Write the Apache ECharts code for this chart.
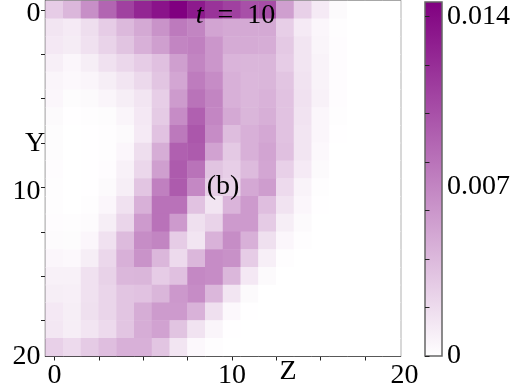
<!DOCTYPE html>
<html>
<head>
<meta charset="utf-8">
<style>
    html, body { margin: 0; padding: 0; background: #fff; }
    #chart { width: 518px; height: 384px; }
</style>
<script src="https://cdn.jsdelivr.net/npm/echarts@6/dist/echarts.min.js"></script>
</head>
<body>
<div id="chart"></div>
<script>
// cell values, in units of 1e-3, one row per Y, one column per Z
const rows = [
    [2.9, 4.1, 6.4, 8.8, 10.9, 12.4, 13.5, 14.6, 13.1, 11.7, 10.9, 10.0, 10.2, 5.5, 2.7, 1.2, 0.3, 0, 0, 0],
    [1.5, 1.2, 1.9, 2.9, 4.0, 4.9, 6.2, 7.6, 7.0, 5.2, 4.9, 4.9, 4.9, 2.8, 1.2, 0.5, 0.1, 0, 0, 0],
    [1.3, 1.1, 1.7, 2.5, 3.4, 4.5, 5.5, 7.0, 7.3, 6.0, 4.8, 4.8, 4.7, 3.1, 1.5, 0.6, 0.15, 0, 0, 0],
    [0.9, 0.5, 1.0, 1.7, 2.3, 2.9, 3.6, 5.5, 7.0, 6.0, 4.3, 4.2, 4.2, 2.9, 1.5, 0.7, 0.15, 0, 0, 0],
    [0.6, 0.4, 0.6, 1.0, 1.5, 2.2, 3.3, 5.1, 7.5, 6.6, 4.5, 4.1, 4.2, 3.3, 1.6, 0.7, 0.15, 0, 0, 0],
    [0.5, 0.2, 0.3, 0.6, 1.0, 1.5, 2.8, 5.7, 8.0, 7.0, 4.5, 4.1, 4.4, 3.5, 1.7, 0.8, 0.15, 0, 0, 0],
    [0.3, 0.05, 0.1, 0.2, 0.6, 1.3, 3.0, 6.6, 9.1, 6.9, 4.9, 4.2, 4.6, 3.5, 1.6, 0.5, 0.1, 0, 0, 0],
    [0.2, 0, 0.03, 0.1, 0.3, 1.2, 3.5, 7.7, 9.6, 6.6, 3.8, 4.5, 5.0, 3.5, 1.5, 0.5, 0.05, 0, 0, 0],
    [0.2, 0, 0.03, 0.1, 0.5, 1.9, 4.7, 9.1, 9.4, 5.3, 3.1, 4.5, 5.2, 3.6, 1.5, 0.4, 0, 0, 0, 0],
    [0.15, 0, 0.03, 0.15, 0.8, 2.3, 5.5, 9.4, 8.0, 3.4, 2.8, 3.9, 5.1, 2.7, 1.2, 0.3, 0, 0, 0, 0],
    [0.1, 0, 0.05, 0.3, 1.0, 3.3, 7.3, 9.4, 6.8, 2.8, 2.6, 5.0, 5.6, 2.1, 0.7, 0.1, 0, 0, 0, 0],
    [0.1, 0.02, 0.1, 0.5, 1.7, 4.5, 8.1, 8.1, 3.5, 1.5, 4.3, 5.8, 3.7, 1.6, 0.5, 0.05, 0, 0, 0, 0],
    [0.15, 0.1, 0.25, 1.0, 2.4, 5.8, 8.1, 5.8, 1.8, 2.5, 5.8, 5.8, 3.0, 1.0, 0.3, 0, 0, 0, 0, 0],
    [0.25, 0.2, 0.5, 1.7, 3.9, 6.5, 7.0, 2.9, 1.5, 4.4, 6.5, 4.5, 1.8, 0.5, 0.1, 0, 0, 0, 0, 0],
    [0.5, 0.4, 1.0, 2.3, 4.5, 6.2, 4.1, 2.1, 4.1, 6.6, 6.3, 2.9, 0.9, 0.1, 0, 0, 0, 0, 0, 0],
    [0.8, 0.8, 1.7, 2.6, 4.1, 4.2, 2.9, 3.6, 6.8, 6.6, 4.1, 1.3, 0.3, 0, 0, 0, 0, 0, 0, 0],
    [1.0, 0.9, 1.7, 2.4, 3.3, 3.5, 4.2, 5.9, 6.6, 4.1, 1.5, 0.3, 0, 0, 0, 0, 0, 0, 0, 0],
    [1.3, 1.0, 1.8, 2.4, 3.3, 4.7, 5.7, 5.8, 4.4, 1.8, 0.4, 0.03, 0, 0, 0, 0, 0, 0, 0, 0],
    [1.4, 1.0, 1.5, 2.1, 3.3, 4.7, 5.3, 3.4, 1.6, 0.6, 0.05, 0, 0, 0, 0, 0, 0, 0, 0, 0],
    [2.7, 2.1, 3.0, 3.7, 4.5, 4.5, 3.3, 1.5, 0.4, 0.1, 0, 0, 0, 0, 0, 0, 0, 0, 0, 0],
];
const cells = ['0', '1', '2', '3', '4', '5', '6', '7', '8', '9', '10', '11', '12', '13', '14', '15', '16', '17', '18', '19'];
const axisTicks = [0, 2.5, 5, 7.5, 10, 12.5, 15, 17.5];
const axisLabels = [0, 10, 19.5];
const barMax = 0.0146;
const barTicks = [0, 0.002, 0.004, 0.006, 0.008, 0.01, 0.012, 0.014];
const barLabels = [0, 0.007, 0.014];

const serif = '"Liberation Serif", "DejaVu Serif", serif';
const fontSize = 28;

const heatData = [];
rows.forEach((row, y) => {
    row.forEach((v, x) => {
        heatData.push([x, y, v / 1000]);
    });
});

function plainText(text, x, y) {
    return {
        type: 'text',
        x: x,
        y: y,
        z: 100,
        style: {
            text: text,
            font: fontSize + 'px ' + serif,
            fill: '#000',
            align: 'center',
            verticalAlign: 'middle',
        },
    };
}

const option = {
    animation: false,
    backgroundColor: '#fff',
    grid: [
        {left: 45.5, top: 1, width: 355, height: 355, show: true, borderColor: '#666', borderWidth: 1.5, backgroundColor: 'transparent', outerBoundsMode: 'none'},
        {
            left: 425,
            top: 2,
            width: 17,
            height: 354,
            show: true,
            borderColor: '#666',
            borderWidth: 1.5,
            // the colour bar itself, same two colours as the visualMap
            backgroundColor: new echarts.graphic.LinearGradient(0, 0, 0, 1, [
                {offset: 0, color: '#800080'},
                {offset: 1, color: '#ffffff'},
            ]),
            outerBoundsMode: 'none',
        },
    ],
    xAxis: [
        {type: 'category', data: cells, gridIndex: 0, show: false},
        {
            type: 'value',
            gridIndex: 0,
            min: -0.5,
            max: 19.5,
            position: 'bottom',
            splitLine: {show: false},
            axisLine: {onZero: false, lineStyle: {color: '#222', width: 1}},
            axisTick: {customValues: axisTicks, length: 4.5, lineStyle: {color: '#222'}},
            axisLabel: {
                customValues: axisLabels,
                margin: 6,
                color: '#000',
                fontFamily: serif,
                fontSize: fontSize,
                formatter: (v) => (v === 19.5 ? '{a|20}' : String(v)),
                rich: {a: {fontFamily: serif, fontSize: fontSize, padding: [0, 0, 0, 8]}},
            },
        },
        {type: 'value', gridIndex: 1, min: 0, max: 1, show: false},
    ],
    yAxis: [
        {type: 'category', data: cells, gridIndex: 0, inverse: true, show: false},
        {
            type: 'value',
            gridIndex: 0,
            min: -0.5,
            max: 19.5,
            inverse: true,
            position: 'left',
            splitLine: {show: false},
            axisLine: {onZero: false, lineStyle: {color: '#222', width: 1}},
            axisTick: {customValues: axisTicks, length: 4.5, lineStyle: {color: '#222'}},
            axisLabel: {
                customValues: axisLabels,
                margin: 5,
                padding: [8, 0, 0, 0],
                color: '#000',
                fontFamily: serif,
                fontSize: fontSize,
                formatter: (v) => (v === 19.5 ? '{a|20}' : String(v)),
                rich: {a: {fontFamily: serif, fontSize: fontSize, padding: [0, 0, 6, 0]}},
            },
        },
        {
            type: 'value',
            gridIndex: 1,
            min: 0,
            max: barMax,
            position: 'right',
            splitLine: {show: false},
            axisLine: {show: false},
            axisTick: {show: true, customValues: barTicks, length: 4.5, lineStyle: {color: '#222'}},
            axisLabel: {
                customValues: barLabels,
                margin: 5,
                color: '#000',
                fontFamily: serif,
                fontSize: fontSize,
                formatter: (v) => String(v),
            },
        },
    ],
    visualMap: {
        type: 'continuous',
        show: false,
        seriesIndex: 0,
        min: 0,
        max: barMax,
        inRange: {color: ['#ffffff', '#800080']},
    },
    series: [
        {
            type: 'heatmap',
            xAxisIndex: 0,
            yAxisIndex: 0,
            data: heatData,
            progressive: 0,
            silent: true,
            itemStyle: {borderWidth: 0},
        },
    ],
    graphic: [
        plainText('Y', 35, 144),
        plainText('Z', 288, 372),
        plainText('(b)', 223, 187),
        {
            type: 'text',
            x: 235.5,
            y: 16,
            z: 100,
            style: {
                text: '{i|t}  =  10',
                font: fontSize + 'px ' + serif,
                fill: '#000',
                align: 'center',
                verticalAlign: 'middle',
                rich: {i: {fontStyle: 'italic', fontFamily: serif, fontSize: fontSize}},
            },
        },
    ],
};

const chart = echarts.init(document.getElementById('chart'));
chart.setOption(option);
window.addEventListener('resize', () => chart.resize());
</script>
</body>
</html>
